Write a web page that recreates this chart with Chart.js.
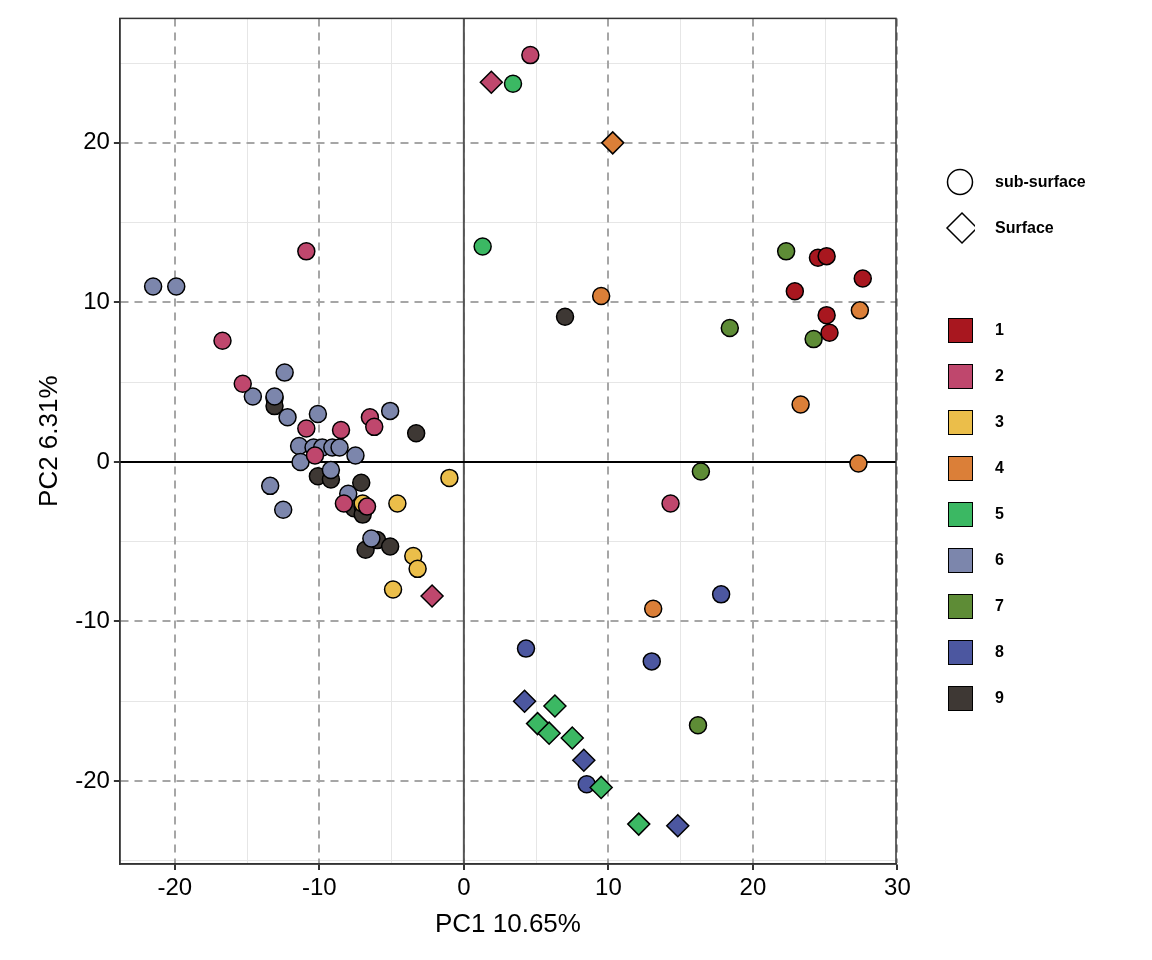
<!DOCTYPE html>
<html>
<head>
<meta charset="utf-8">
<script src="https://cdn.jsdelivr.net/npm/chart.js@4.4.0/dist/chart.umd.min.js"></script>
<style>
  body { margin: 0; background: #fff; font-family: "Liberation Sans", Arial, sans-serif; }
  #wrap { position: relative; width: 1152px; height: 960px; }
  .leg { position: absolute; left: 945px; font-weight: bold; font-size: 16px; color: #000; }
  .row { display: flex; align-items: center; height: 46px; }
  .sym { width: 30px; height: 30px; display: flex; align-items: center; justify-content: center; margin-right: 20px; }
  .sw { width: 25px; height: 25px; border: 1.5px solid #000; box-sizing: border-box; }
</style>
</head>
<body>
<div id="wrap">
  <canvas id="pca" width="1152" height="960"></canvas>
  <div class="leg" id="shapeLeg" style="top:159px"></div>
  <div class="leg" id="groupLeg" style="top:307px"></div>
</div>
<script>
// groups and colours
const groups = ['1', '2', '3', '4', '5', '6', '7', '8', '9'];
const colors = ['#A8171F', '#BF476D', '#EBBE4A', '#DB7F38', '#3BB863', '#7C86AC', '#5E8C36', '#4C57A0', '#3E3834'];

// points per group: [PC1, PC2, shape] shape: 0 = sub-surface, 1 = Surface
const g1 = [[24.5,12.8,0],[25.1,12.9,0],[27.6,11.5,0],[22.9,10.7,0],[25.1,9.2,0],[25.3,8.1,0]];
const g2 = [[1.9,23.8,1],[4.6,25.5,0],[-10.9,13.2,0],[-16.7,7.6,0],[-15.3,4.9,0],[-10.9,2.1,0],[-8.5,2.0,0],
            [-6.5,2.8,0],[-6.2,2.2,0],[-10.3,0.4,0],[-8.3,-2.6,0],[-6.7,-2.8,0],[14.3,-2.6,0],[-2.2,-8.4,1]];
const g3 = [[-1.0,-1.0,0],[-4.6,-2.6,0],[-7.0,-2.6,0],[-3.5,-5.9,0],[-3.2,-6.7,0],[-4.9,-8.0,0]];
const g4 = [[10.3,20.0,1],[9.5,10.4,0],[27.4,9.5,0],[23.3,3.6,0],[27.3,-0.1,0],[13.1,-9.2,0]];
const g5 = [[3.4,23.7,0],[1.3,13.5,0],[6.3,-15.3,1],[5.1,-16.4,1],[5.9,-17.0,1],[7.5,-17.3,1],[9.5,-20.4,1],[12.1,-22.7,1]];
const g6 = [[-21.5,11.0,0],[-19.9,11.0,0],[-12.4,5.6,0],[-14.6,4.1,0],[-13.1,4.1,0],[-12.2,2.8,0],[-10.1,3.0,0],
            [-5.1,3.2,0],[-11.4,1.0,0],[-10.4,0.9,0],[-9.8,0.9,0],[-9.1,0.9,0],[-8.6,0.9,0],[-11.3,0.0,0],
            [-9.2,-0.5,0],[-7.5,0.4,0],[-13.4,-1.5,0],[-12.5,-3.0,0],[-8.0,-2.0,0],[-6.4,-4.8,0]];
const g7 = [[22.3,13.2,0],[18.4,8.4,0],[24.2,7.7,0],[16.4,-0.6,0],[16.2,-16.5,0]];
const g8 = [[17.8,-8.3,0],[4.3,-11.7,0],[13.0,-12.5,0],[8.5,-20.2,0],[4.2,-15.0,1],[8.3,-18.7,1],[14.8,-22.8,1]];
const g9 = [[7.0,9.1,0],[-3.3,1.8,0],[-13.1,4.0,0],[-13.1,3.5,0],[-10.1,-0.9,0],[-9.2,-1.1,0],[-7.1,-1.3,0],
            [-7.6,-2.9,0],[-7.0,-2.8,0],[-7.0,-3.3,0],[-6.8,-5.5,0],[-6.0,-4.9,0],[-5.1,-5.3,0]];
const allGroups = [g1, g2, g3, g4, g5, g6, g7, g8, g9];

const xTicks = [-20, -10, 0, 10, 20, 30];
const yTicks = [-20, -10, 0, 10, 20];
const xMinor = [-15, -5, 5, 15, 25];
const yMinor = [-25, -15, -5, 5, 15, 25];

const datasets = allGroups.map((pts, i) => ({
  label: groups[i],
  data: pts.map(p => ({ x: p[0], y: p[1] })),
  pointStyle: pts.map(p => p[2] ? 'rectRot' : 'circle'),
  pointRadius: pts.map(p => p[2] ? 11 : 8.5),
  backgroundColor: colors[i],
  borderColor: '#000',
  borderWidth: 1.5
}));

const zeroLines = {
  id: 'zeroLines',
  beforeDatasetsDraw(chart) {
    const { ctx, chartArea: a, scales } = chart;
    const x0 = scales.x.getPixelForValue(0), y0 = scales.y.getPixelForValue(0);
    ctx.save();
    ctx.lineWidth = 2;
    ctx.strokeStyle = '#555';
    ctx.beginPath(); ctx.moveTo(x0, a.top); ctx.lineTo(x0, a.bottom); ctx.stroke();
    ctx.strokeStyle = '#000';
    ctx.beginPath(); ctx.moveTo(a.left, y0); ctx.lineTo(a.right, y0); ctx.stroke();
    ctx.restore();
  }
};

const xMin = -23.8, xMax = 29.9, yMin = -25.2, yMax = 27.8;
const tickFont = { family: 'Liberation Sans, Arial', size: 24 };

new Chart(document.getElementById('pca'), {
  type: 'scatter',
  data: { datasets },
  options: {
    responsive: false,
    animation: false,
    layout: { padding: { top: 11, right: 256, left: 28, bottom: 18 } },
    plugins: { legend: { display: false }, tooltip: { enabled: false } },
    scales: {
      xm: {
        type: 'linear', position: 'bottom', min: xMin, max: xMax, display: true,
        afterBuildTicks: s => { s.ticks = xMinor.map(v => ({ value: v })); },
        ticks: { display: false }, border: { display: false },
        grid: { color: '#e6e6e6', lineWidth: 1, drawTicks: false }
      },
      ym: {
        type: 'linear', position: 'left', min: yMin, max: yMax, display: true,
        afterBuildTicks: s => { s.ticks = yMinor.map(v => ({ value: v })); },
        ticks: { display: false }, border: { display: false },
        grid: { color: '#e6e6e6', lineWidth: 1, drawTicks: false }
      },
      x: {
        type: 'linear', min: xMin, max: xMax,
        afterBuildTicks: s => { s.ticks = xTicks.map(v => ({ value: v })); },
        ticks: { color: '#000', font: tickFont, padding: 4 },
        grid: { color: '#a6a6a6', lineWidth: 2, tickLength: 6, tickColor: '#333', tickBorderDash: [] },
        border: { color: '#333', width: 1.5, dash: [8, 6] },
        title: { display: true, text: 'PC1 10.65%', color: '#000', font: { family: 'Liberation Sans, Arial', size: 26 }, padding: 2 }
      },
      y: {
        type: 'linear', min: yMin, max: yMax,
        afterBuildTicks: s => { s.ticks = yTicks.map(v => ({ value: v })); },
        ticks: { color: '#000', font: tickFont, padding: 4 },
        grid: { color: '#a6a6a6', lineWidth: 2, tickLength: 6, tickColor: '#333', tickBorderDash: [] },
        border: { color: '#333', width: 1.5, dash: [8, 6] },
        title: { display: true, text: 'PC2 6.31%', color: '#000', font: { family: 'Liberation Sans, Arial', size: 26 }, padding: 6 }
      }
    }
  },
  plugins: [zeroLines, {
    id: 'box',
    afterDraw(chart) {
      const { ctx, chartArea: a } = chart;
      ctx.save(); ctx.strokeStyle = '#333'; ctx.lineWidth = 1.5;
      ctx.strokeRect(a.left, a.top, a.right - a.left, a.bottom - a.top); ctx.restore();
    }
  }]
});

// legends
const shapeLeg = document.getElementById('shapeLeg');
shapeLeg.innerHTML =
  '<div class="row"><div class="sym"><svg width="30" height="30"><circle cx="15" cy="15" r="12.5" fill="#fff" stroke="#000" stroke-width="1.5"/></svg></div>sub-surface</div>' +
  '<div class="row"><div class="sym"><svg width="34" height="34"><polygon points="17,2 32,17 17,32 2,17" fill="#fff" stroke="#000" stroke-width="1.5"/></svg></div>Surface</div>';
const groupLeg = document.getElementById('groupLeg');
groupLeg.innerHTML = groups.map((g, i) =>
  '<div class="row"><div class="sym"><div class="sw" style="background:' + colors[i] + '"></div></div>' + g + '</div>').join('');
</script>
</body>
</html>
